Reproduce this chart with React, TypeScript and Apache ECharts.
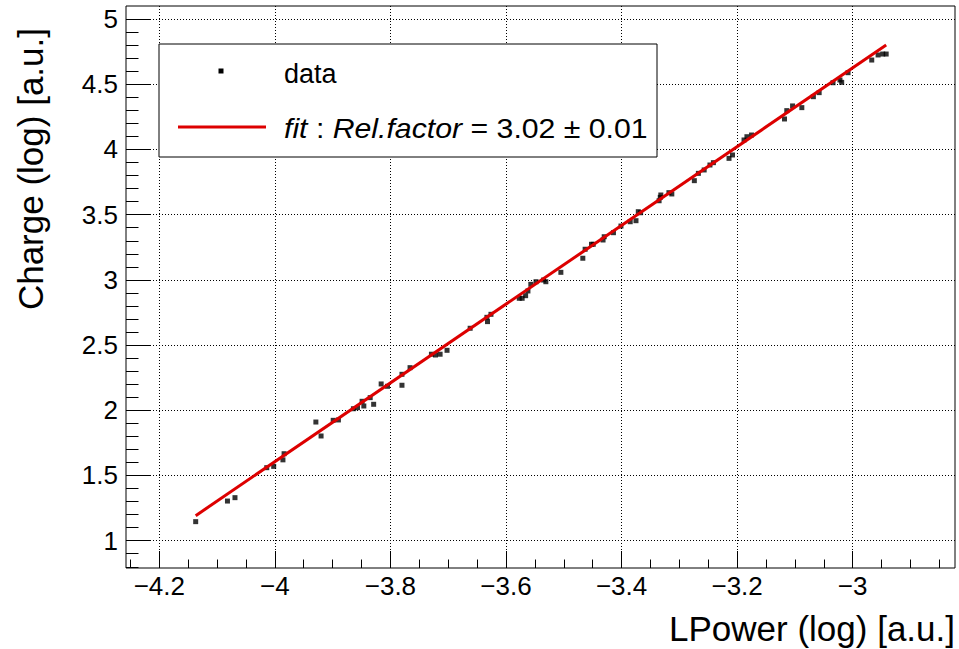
import React, { useEffect, useRef } from 'react';
import * as echarts from 'echarts';

// Measured data points (LPower log, Charge log)
const dataX = [
  -4.137, -4.082, -4.069, -4.014, -4.002, -3.986, -3.984, -3.929, -3.920, -3.899,
  -3.890, -3.864, -3.857, -3.849, -3.846, -3.835, -3.829, -3.816, -3.805, -3.780,
  -3.780, -3.766, -3.729, -3.722, -3.714, -3.702, -3.662, -3.633, -3.632, -3.626,
  -3.577, -3.572, -3.566, -3.562, -3.557, -3.548, -3.535, -3.531, -3.505, -3.467,
  -3.463, -3.452, -3.449, -3.432, -3.430, -3.414, -3.401, -3.385, -3.375, -3.371,
  -3.367, -3.335, -3.333, -3.332, -3.318, -3.313, -3.274, -3.267, -3.257, -3.247,
  -3.241, -3.214, -3.208, -3.188, -3.183, -3.175, -3.118, -3.114, -3.104, -3.088,
  -3.068, -3.058, -3.034, -3.022, -3.019, -3.008, -2.967, -2.956, -2.948, -2.942,
];
const dataY = [
  1.146, 1.304, 1.330, 1.560, 1.570, 1.620, 1.667, 1.910, 1.803, 1.923,
  1.926, 2.012, 2.020, 2.069, 2.033, 2.097, 2.046, 2.202, 2.184, 2.276,
  2.192, 2.327, 2.430, 2.424, 2.430, 2.460, 2.629, 2.713, 2.680, 2.736,
  2.859, 2.859, 2.879, 2.915, 2.966, 2.986, 2.999, 2.986, 3.058, 3.166,
  3.235, 3.273, 3.273, 3.306, 3.331, 3.362, 3.413, 3.446, 3.454, 3.523,
  3.515, 3.607, 3.633, 3.651, 3.669, 3.659, 3.761, 3.817, 3.843, 3.881,
  3.899, 3.932, 3.958, 4.073, 4.098, 4.111, 4.234, 4.298, 4.334, 4.321,
  4.405, 4.436, 4.512, 4.533, 4.515, 4.589, 4.686, 4.725, 4.732, 4.732,
];

// Fit line end points
const fitX = [-4.137, -2.942];
const fitY = [1.192, 4.801];

const xMajorTicks = [-4.2, -4, -3.8, -3.6, -3.4, -3.2, -3];
const xMinorTicks = [
  -4.25, -4.2, -4.15, -4.1, -4.05, -4, -3.95, -3.9, -3.85, -3.8, -3.75, -3.7,
  -3.65, -3.6, -3.55, -3.5, -3.45, -3.4, -3.35, -3.3, -3.25, -3.2, -3.15, -3.1,
  -3.05, -3, -2.95, -2.9, -2.85,
];
const yMajorTicks = [1, 1.5, 2, 2.5, 3, 3.5, 4, 4.5, 5];
const yMinorTicks = [
  0.8, 0.9, 1, 1.1, 1.2, 1.3, 1.4, 1.5, 1.6, 1.7, 1.8, 1.9, 2, 2.1, 2.2, 2.3,
  2.4, 2.5, 2.6, 2.7, 2.8, 2.9, 3, 3.1, 3.2, 3.3, 3.4, 3.5, 3.6, 3.7, 3.8, 3.9,
  4, 4.1, 4.2, 4.3, 4.4, 4.5, 4.6, 4.7, 4.8, 4.9, 5,
];

const X_MIN = -4.2576;
const X_MAX = -2.8229;
const Y_MIN = 0.7906;
const Y_MAX = 5.1004;

const FONT = '"Liberation Sans", Arial, Helvetica, sans-serif';
const fmt = (v: number) => (v < 0 ? '\u2212' + String(Math.abs(v)) : String(v));

export default function App() {
  const ref = useRef<HTMLDivElement>(null);

  useEffect(() => {
    if (!ref.current) return;
    const chart = echarts.init(ref.current, null, { renderer: 'svg' });
    const gridLine = { show: true, lineStyle: { color: '#000', width: 1, type: [1, 2] as any } };
    const hidden = { show: false };

    const option: any = {
      animation: false,
      backgroundColor: '#fff',
      grid: {
        left: 126,
        top: 6,
        right: 4,
        bottom: 81,
        show: true,
        borderColor: '#000',
        borderWidth: 1,
        backgroundColor: 'transparent',
        containLabel: false,
        outerBoundsMode: 'none',
      },
      xAxis: [
        {
          type: 'value',
          min: X_MIN,
          max: X_MAX,
          position: 'bottom',
          axisLine: hidden,
          axisTick: {
            show: true,
            inside: true,
            length: 17,
            customValues: xMajorTicks,
            lineStyle: { color: '#000', width: 1 },
          },
          axisLabel: {
            show: true,
            customValues: xMajorTicks,
            formatter: fmt,
            margin: 5,
            color: '#000',
            fontFamily: FONT,
            fontSize: 26,
          },
          splitLine: gridLine,
        },
        {
          type: 'value',
          min: X_MIN,
          max: X_MAX,
          position: 'bottom',
          axisLine: hidden,
          axisLabel: hidden,
          splitLine: hidden,
          axisTick: {
            show: true,
            inside: true,
            length: 8.5,
            customValues: xMinorTicks,
            lineStyle: { color: '#000', width: 1 },
          },
        },
      ],
      yAxis: [
        {
          type: 'value',
          min: Y_MIN,
          max: Y_MAX,
          position: 'left',
          axisLine: hidden,
          axisTick: {
            show: true,
            inside: true,
            length: 25,
            customValues: yMajorTicks,
            lineStyle: { color: '#000', width: 1 },
          },
          axisLabel: {
            show: true,
            customValues: yMajorTicks,
            formatter: fmt,
            margin: 8,
            color: '#000',
            fontFamily: FONT,
            fontSize: 26,
            padding: [4, 0, 0, 0],
          },
          splitLine: gridLine,
        },
        {
          type: 'value',
          min: Y_MIN,
          max: Y_MAX,
          position: 'left',
          axisLine: hidden,
          axisLabel: hidden,
          splitLine: hidden,
          axisTick: {
            show: true,
            inside: true,
            length: 12.5,
            customValues: yMinorTicks,
            lineStyle: { color: '#000', width: 1 },
          },
        },
      ],
      series: [
        {
          name: 'data',
          type: 'scatter',
          xAxisIndex: 0,
          yAxisIndex: 0,
          symbol: 'rect',
          symbolSize: 5,
          itemStyle: { color: '#000' },
          data: dataX.map((x, i) => [x, dataY[i]]),
          z: 3,
        },
        {
          name: 'fit',
          type: 'line',
          xAxisIndex: 0,
          yAxisIndex: 0,
          showSymbol: false,
          symbol: 'none',
          lineStyle: { color: '#dd0000', width: 3 },
          data: fitX.map((x, i) => [x, fitY[i]]),
          z: 4,
        },
      ],
      graphic: [
        {
          type: 'rect',
          shape: { x: 159, y: 44, width: 498, height: 113 },
          style: { fill: '#fff', stroke: '#000', lineWidth: 1 },
          z: 10,
        },
        {
          type: 'rect',
          shape: { x: 218.5, y: 68.5, width: 5, height: 5 },
          style: { fill: '#000' },
          z: 11,
        },
        {
          type: 'text',
          x: 284,
          y: 74,
          style: {
            text: 'data',
            fill: '#000',
            fontFamily: FONT,
            fontSize: 27,
            textAlign: 'left',
            textVerticalAlign: 'middle',
          },
          z: 11,
        },
        {
          type: 'line',
          shape: { x1: 178, y1: 127, x2: 266, y2: 127 },
          style: { stroke: '#dd0000', lineWidth: 3 },
          z: 11,
        },
        {
          type: 'text',
          x: 284,
          y: 128,
          scaleX: 1.08,
          style: {
            text: '{i|fit} : {i|Rel.factor} = 3.02 ± 0.01',
            fill: '#000',
            fontFamily: FONT,
            fontSize: 28,
            textAlign: 'left',
            textVerticalAlign: 'middle',
            rich: {
              i: { fontStyle: 'italic', fontFamily: FONT, fontSize: 28, fill: '#000' },
            },
          },
          z: 11,
        },
        {
          type: 'text',
          x: 955,
          y: 628,
          style: {
            text: 'LPower (log) [a.u.]',
            fill: '#000',
            fontFamily: FONT,
            fontSize: 35,
            textAlign: 'right',
            textVerticalAlign: 'middle',
          },
          z: 11,
        },
        {
          type: 'text',
          x: 30,
          y: 28,
          rotation: Math.PI / 2,
          style: {
            text: 'Charge (log) [a.u.]',
            fill: '#000',
            fontFamily: FONT,
            fontSize: 35,
            textAlign: 'right',
            textVerticalAlign: 'middle',
          },
          z: 11,
        },
      ],
    };

    chart.setOption(option);
    return () => chart.dispose();
  }, []);

  return (
    <div
      ref={ref}
      style={{ position: 'fixed', left: 0, top: 0, width: 959, height: 649, background: '#fff' }}
    />
  );
}
